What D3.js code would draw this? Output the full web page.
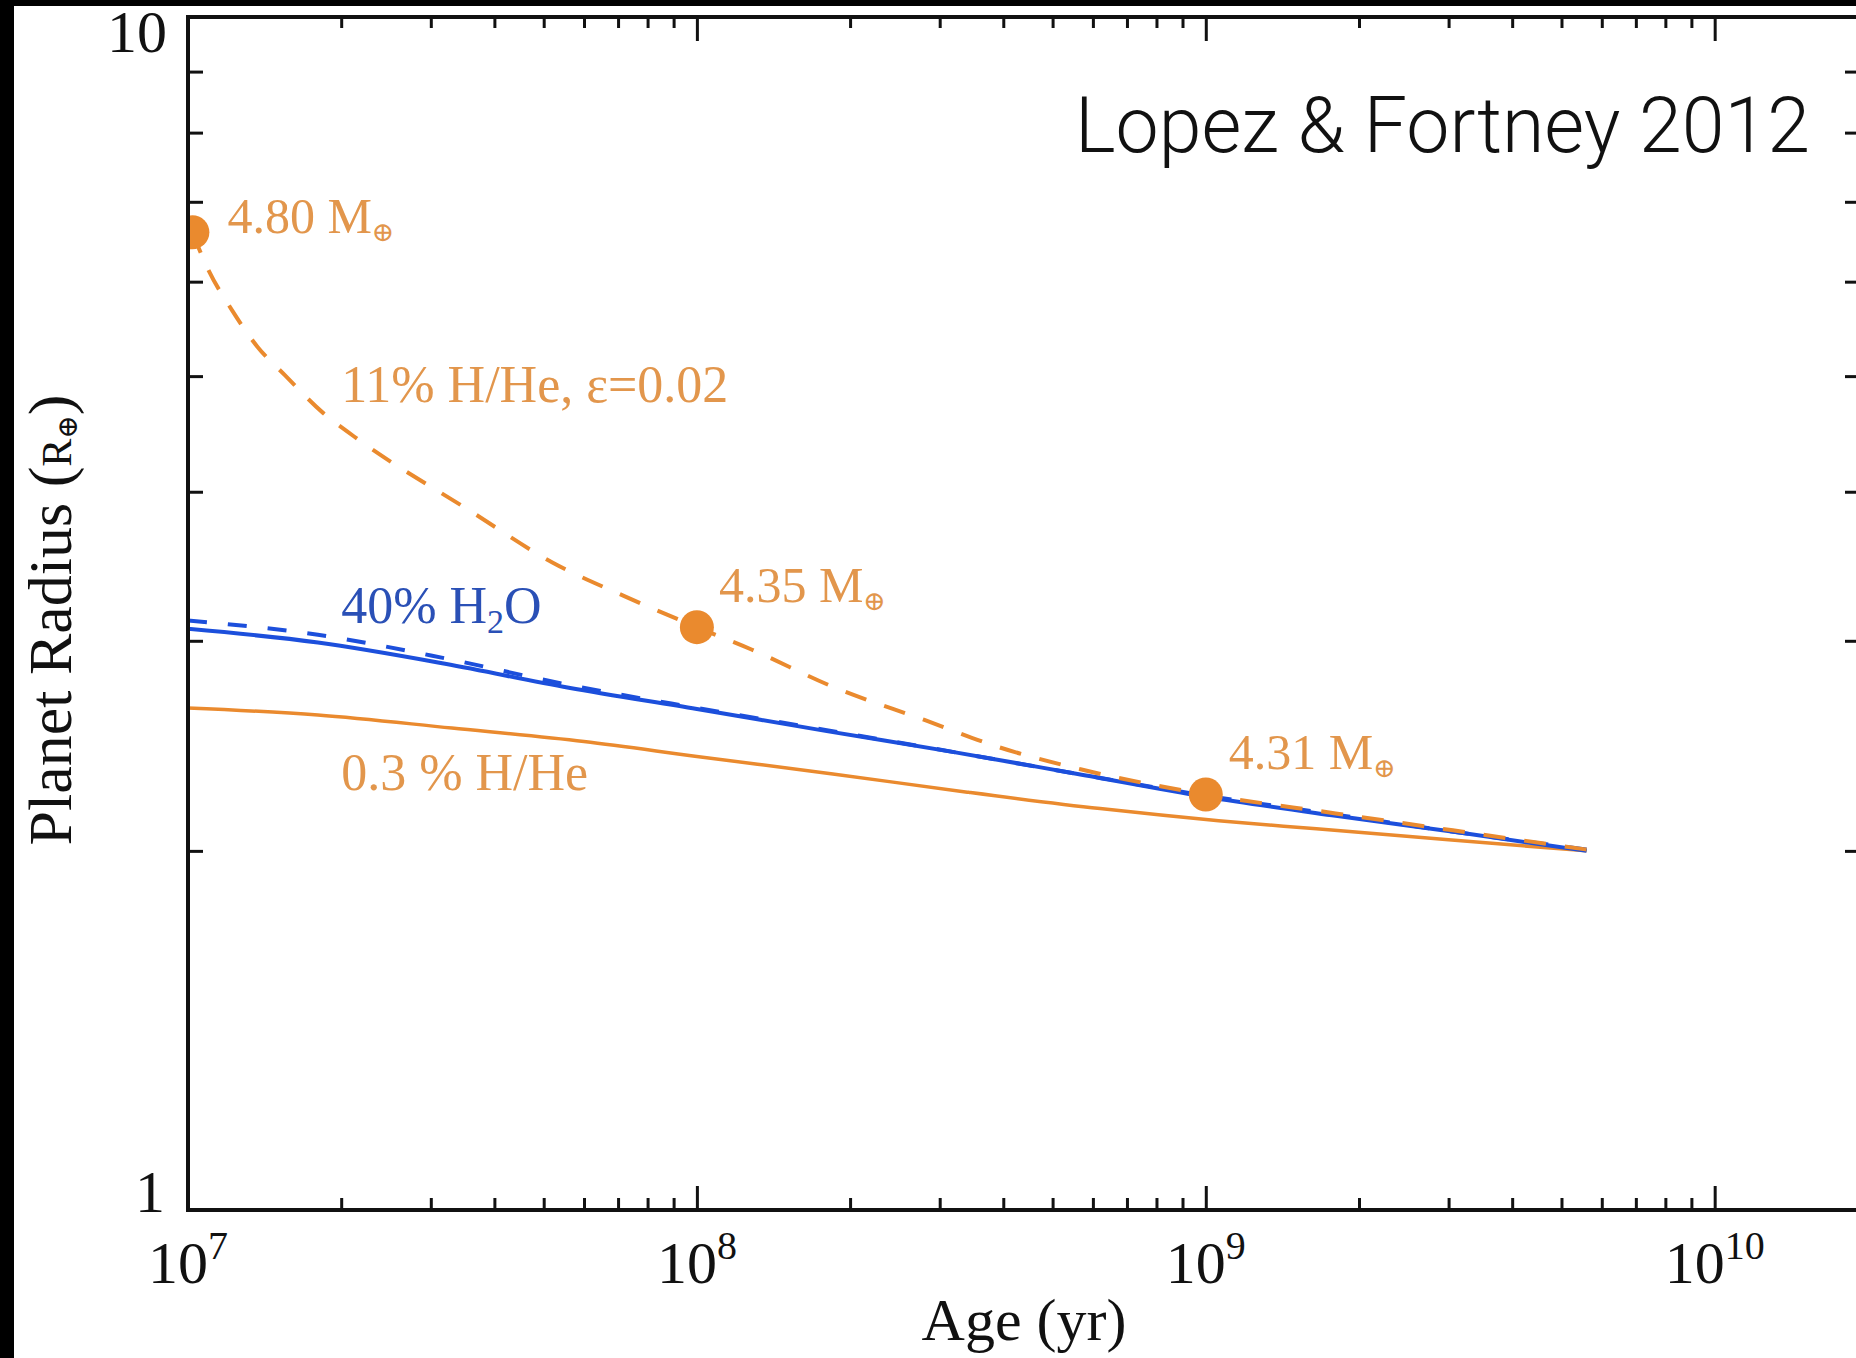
<!DOCTYPE html>
<html>
<head>
<meta charset="utf-8">
<script src="https://cdn.jsdelivr.net/npm/d3@7/dist/d3.min.js"></script>
<style>
  body { margin: 0; background: #fff; }
  svg { display: block; }
</style>
</head>
<body>
<div id="chart"></div>
<script>
// ages in years, radii in Earth radii
var waterAge = [1e7, 1.8e7, 3.2e7, 5.6e7, 1e8, 1.8e8, 3.2e8, 5.6e8, 1e9, 1.8e9, 3.2e9, 5.6e9];
var waterRadius = [3.07, 2.99, 2.87, 2.74, 2.63, 2.52, 2.42, 2.32, 2.22, 2.14, 2.07, 2.0];
var waterDashRadius = [3.12, 3.035, 2.9, 2.755, 2.635, 2.525, 2.42, 2.32, 2.225, 2.145, 2.07, 2.005];

var thinAge = [1e7, 1.8e7, 3.3e7, 6e7, 1e8, 1.85e8, 3.4e8, 6.2e8, 1.06e9, 1.65e9, 3e9, 5.6e9];
var thinRadius = [2.635, 2.6, 2.535, 2.47, 2.4, 2.32, 2.24, 2.17, 2.12, 2.087, 2.043, 2.0];

var lossAge = [1.02e7, 1.09e7, 1.22e7, 1.37e7, 1.55e7, 1.84e7, 2.12e7, 3.6e7, 5.2e7, 7.2e7, 1e8,
  1.28e8, 1.87e8, 2.8e8, 3.9e8, 5.7e8, 8.4e8, 1e9, 1.8e9, 3.2e9, 5.6e9];
var lossRadius = [6.6, 6.17, 5.68, 5.29, 5.01, 4.66, 4.45, 3.85, 3.49, 3.27, 3.08,
  2.95, 2.74, 2.575, 2.445, 2.34, 2.26, 2.23, 2.15, 2.075, 2.005];

var massAge = [1.02e7, 1e8, 1e9];
var massRadius = [6.6, 3.08, 2.23];
var massLabel = ["4.80", "4.35", "4.31"];

var xMajor = [1e7, 1e8, 1e9, 1e10];
var yMajor = [1, 10];

var W = 1856, H = 1358;
var orange = "#ea8a2e", orangeText = "#e2964c", blue = "#1c4fdc", blueText = "#2a50b6";
var serif = "'Liberation Serif', 'DejaVu Serif', serif";

var svg = d3.select("#chart").append("svg")
  .attr("width", W)
  .attr("height", H);

svg.append("rect").attr("width", W).attr("height", H).attr("fill", "#fff");

var x = d3.scaleLog().domain([1e7, 1.93e10]).range([188, 1860]);
var y = d3.scaleLog().domain([1, 10]).range([1210, 17]);

var x0 = x.range()[0], x1 = x.range()[1], y0 = y.range()[0], y1 = y.range()[1];

svg.append("clipPath").attr("id", "plotClip")
  .append("rect")
  .attr("x", x0).attr("y", y1)
  .attr("width", x1 - x0).attr("height", y0 - y1);

var plot = svg.append("g").attr("clip-path", "url(#plotClip)");

var line = d3.line()
  .x(function (d) { return x(d[0]); })
  .y(function (d) { return y(d[1]); })
  .curve(d3.curveMonotoneX);

function pairs(a, b) {
  return a.map(function (d, i) { return [d, b[i]]; });
}

// 0.3 % H/He
plot.append("path")
  .attr("d", line(pairs(thinAge, thinRadius)))
  .attr("fill", "none")
  .attr("stroke", orange)
  .attr("stroke-width", 3.5);

// 40% water, solid and dashed
plot.append("path")
  .attr("d", line(pairs(waterAge, waterRadius)))
  .attr("fill", "none")
  .attr("stroke", blue)
  .attr("stroke-width", 4);

plot.append("path")
  .attr("d", line(pairs(waterAge, waterDashRadius)))
  .attr("fill", "none")
  .attr("stroke", blue)
  .attr("stroke-width", 4)
  .attr("stroke-dasharray", "19,21");

// 11% H/He with mass loss
plot.append("path")
  .attr("d", line(pairs(lossAge, lossRadius)))
  .attr("fill", "none")
  .attr("stroke", orange)
  .attr("stroke-width", 4)
  .attr("stroke-dasharray", "22,19");

plot.selectAll("circle.mass")
  .data(pairs(massAge, massRadius))
  .enter().append("circle")
  .attr("class", "mass")
  .attr("cx", function (d) { return x(d[0]); })
  .attr("cy", function (d) { return y(d[1]); })
  .attr("r", 17)
  .attr("fill", orange);

// mass labels
var labelOffset = [[35, 1], [22, -25], [23, -25]];
massLabel.forEach(function (m, i) {
  var t = svg.append("text")
    .attr("x", x(massAge[i]) + labelOffset[i][0])
    .attr("y", y(massRadius[i]) + labelOffset[i][1])
    .attr("fill", orangeText)
    .style("font-family", serif)
    .style("font-size", "50px");
  t.append("tspan").text(m + " M");
  t.append("tspan").attr("dy", 8).style("font-size", "27px").text("\u2295");
});

// curve labels
function curveLabel(age, r, color) {
  return svg.append("text")
    .attr("x", x(age))
    .attr("y", y(r))
    .attr("fill", color)
    .style("font-family", serif)
    .style("font-size", "52px");
}
curveLabel(2e7, 4.76, orangeText).text("11% H/He, \u03b5=0.02");
var wl = curveLabel(2e7, 3.105, blueText);
wl.append("tspan").text("40% H");
wl.append("tspan").attr("dy", 10).style("font-size", "34px").text("2");
wl.append("tspan").attr("dy", -10).text("O");
curveLabel(2e7, 2.25, orangeText).text("0.3 % H/He");

// frame and ticks
var allX = x.ticks().filter(function (d) { return xMajor.indexOf(d) < 0; });
var allY = y.ticks().filter(function (d) { return yMajor.indexOf(d) < 0; });

function styleAxis(g) {
  g.select(".domain").remove();
  g.selectAll(".tick line").attr("stroke", "#111").attr("stroke-width", 3);
}

svg.append("g").attr("transform", "translate(0," + y0 + ")")
  .call(d3.axisBottom(x).tickValues(allX).tickSize(-12).tickFormat(""))
  .call(styleAxis);
svg.append("g").attr("transform", "translate(0," + y0 + ")")
  .call(d3.axisBottom(x).tickValues(xMajor).tickSize(-24).tickFormat(""))
  .call(styleAxis);
svg.append("g").attr("transform", "translate(0," + y1 + ")")
  .call(d3.axisTop(x).tickValues(allX).tickSize(-11).tickFormat(""))
  .call(styleAxis);
svg.append("g").attr("transform", "translate(0," + y1 + ")")
  .call(d3.axisTop(x).tickValues(xMajor).tickSize(-24).tickFormat(""))
  .call(styleAxis);
svg.append("g").attr("transform", "translate(" + x0 + ",0)")
  .call(d3.axisLeft(y).tickValues(allY).tickSize(-15).tickFormat(""))
  .call(styleAxis);
svg.append("g").attr("transform", "translate(" + x1 + ",0)")
  .call(d3.axisRight(y).tickValues(allY).tickSize(-15).tickFormat(""))
  .call(styleAxis);

svg.append("rect")
  .attr("x", x0).attr("y", y1)
  .attr("width", x1 - x0).attr("height", y0 - y1)
  .attr("fill", "none")
  .attr("stroke", "#111")
  .attr("stroke-width", 4);

// x tick labels as powers of ten
xMajor.forEach(function (v) {
  var t = svg.append("text")
    .attr("x", x(v))
    .attr("y", 1283)
    .attr("text-anchor", "middle")
    .style("font-family", serif)
    .style("font-size", "60px")
    .attr("fill", "#111");
  t.append("tspan").text("10");
  t.append("tspan").attr("dy", -24).style("font-size", "40px").text(Math.round(Math.log10(v)));
});

// y tick labels
svg.append("text").attr("x", 167).attr("y", 52).attr("text-anchor", "end")
  .style("font-family", serif).style("font-size", "60px").attr("fill", "#111")
  .text(yMajor[1]);
svg.append("text").attr("x", 165).attr("y", 1212).attr("text-anchor", "end")
  .style("font-family", serif).style("font-size", "60px").attr("fill", "#111")
  .text(yMajor[0]);

// axis titles
svg.append("text")
  .attr("x", (x0 + x1) / 2)
  .attr("y", 1340)
  .attr("text-anchor", "middle")
  .style("font-family", serif)
  .style("font-size", "60px")
  .attr("fill", "#111")
  .text("Age (yr)");

var yt = svg.append("text")
  .attr("transform", "translate(71,620) rotate(-90)")
  .attr("text-anchor", "middle")
  .style("font-family", serif)
  .style("font-size", "62px")
  .attr("fill", "#111");
yt.append("tspan").text("Planet Radius (");
yt.append("tspan").style("font-size", "42px").text("R");
yt.append("tspan").attr("dy", 6).style("font-size", "28px").text("\u2295");
yt.append("tspan").attr("dy", -6).text(")");

// citation
svg.append("text")
  .attr("x", 1075)
  .attr("y", 152)
  .style("font-family", "Roboto, 'Liberation Sans', sans-serif")
  .style("font-weight", 300)
  .style("font-size", "77px")
  .attr("fill", "#111")
  .text("Lopez & Fortney 2012");

// slide border
svg.append("rect").attr("x", 0).attr("y", 0).attr("width", W).attr("height", 6).attr("fill", "#000");
svg.append("rect").attr("x", 0).attr("y", 0).attr("width", 14).attr("height", H).attr("fill", "#000");
</script>
</body>
</html>
